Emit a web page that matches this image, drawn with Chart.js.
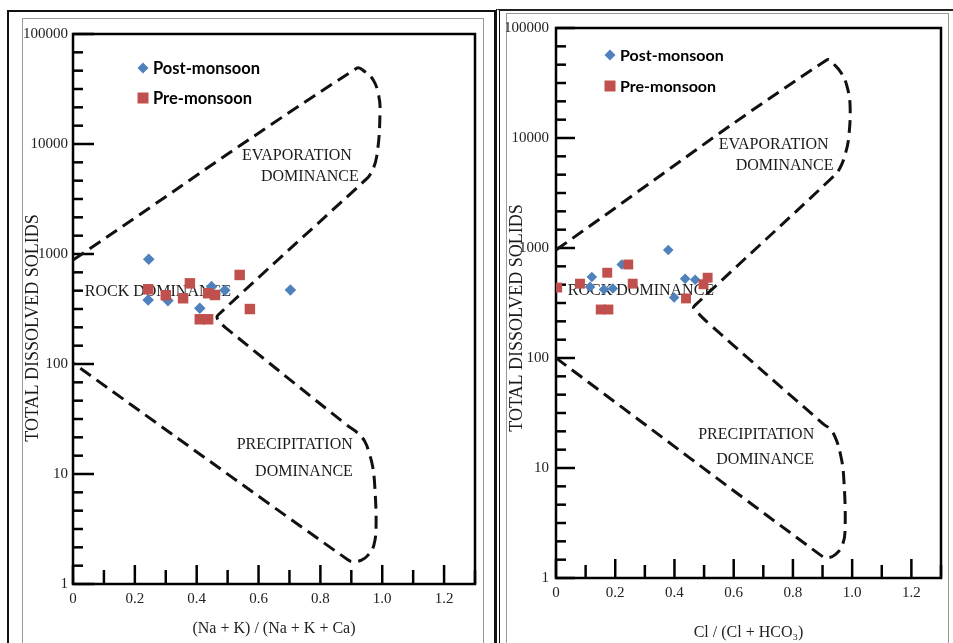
<!DOCTYPE html>
<html>
<head>
<meta charset="utf-8">
<title>Gibbs diagrams</title>
<script src="https://cdn.jsdelivr.net/npm/chart.js@4.4.1/dist/chart.umd.min.js"></script>
<style>
  html, body { margin: 0; padding: 0; background: #fff; overflow: hidden; }
  body { width: 953px; height: 643px; position: relative; }
  .frame { position: absolute; box-sizing: border-box; }
  #leftOuter { left: 7px; top: 10px; width: 489px; height: 700px; border: 2px solid #111; border-bottom: none; }
  #leftInner { left: 22px; top: 18px; width: 462px; height: 700px; border: 1px solid #999; border-bottom: none; }
  #rightOuter { left: 496px; top: 9px; width: 500px; height: 700px; border-left: 4px double #111; border-top: 2px solid #222; }
  #rightInner { left: 506px; top: 13px; width: 443px; height: 700px; border: 1px solid #999; border-bottom: none; }
  canvas { position: absolute; }
  #leftChart { left: 23px; top: 19px; }
  #rightChart { left: 506px; top: 12px; }
</style>
</head>
<body>
<div class="frame" id="leftOuter"></div>
<div class="frame" id="leftInner"></div>
<div class="frame" id="rightOuter"></div>
<div class="frame" id="rightInner"></div>
<canvas id="leftChart" width="460" height="624"></canvas>
<canvas id="rightChart" width="442" height="631"></canvas>
<script>
const seriesNames = ['Post-monsoon', 'Pre-monsoon'];
const xTickLabels = ['0', '0.2', '0.4', '0.6', '0.8', '1.0', '1.2'];
const yTickLabels = ['1', '10', '100', '1000', '10000', '100000'];

// (Na + K) / (Na + K + Ca) panel
const cationPostX = [0.245, 0.243, 0.307, 0.448, 0.491, 0.410, 0.703];
const cationPostTds = [895, 382, 377, 505, 468, 321, 471];
const cationPreX = [0.243, 0.300, 0.356, 0.378, 0.437, 0.459, 0.539, 0.572, 0.410, 0.437];
const cationPreTds = [478, 422, 396, 541, 440, 424, 645, 316, 255, 255];

// Cl / (Cl + HCO3) panel
const anionPostX = [0.379, 0.121, 0.115, 0.162, 0.192, 0.222, 0.399, 0.436, 0.470];
const anionPostTds = [960, 545, 443, 419, 428, 708, 355, 526, 515];
const anionPreX = [0.004, 0.081, 0.173, 0.244, 0.259, 0.151, 0.177, 0.439, 0.498, 0.512];
const anionPreTds = [437, 474, 596, 708, 474, 276, 276, 348, 468, 537];

// Gibbs boundary (dashed)
const cationBoundX = [0, 0.917, 0.944, 0.971, 0.987, 0.993, 0.982, 0.960, 0.939, 0.922,
  0.469, 0.466, 0.475, 0.496, 0.885, 0.922, 0.944, 0.958, 0.969, 0.976, 0.980, 0.973,
  0.955, 0.933, 0.906, 0.890, 0];
const cationBoundTds = [880, 48750, 45400, 38200, 28900, 20400, 7680, 5220, 4540, 4090,
  279, 262, 240, 211, 27.9, 23.4, 19.7, 15.4, 11.7, 7.67, 3.32, 2.26,
  1.84, 1.65, 1.60, 1.65, 102];
const anionBoundX = [0, 0.914, 0.943, 0.965, 0.982, 0.993, 0.988, 0.976, 0.959, 0.937,
  0.470, 0.464, 0.475, 0.515, 0.903, 0.926, 0.943, 0.959, 0.971, 0.976, 0.965,
  0.943, 0.915, 0.898, 0];
const anionBoundTds = [960, 51200, 45500, 38300, 30000, 19800, 9930, 7030, 5330, 4480,
  302, 282, 263, 207, 25.1, 22.6, 19.0, 13.9, 8.6, 2.65, 1.94,
  1.63, 1.52, 1.58, 100];

const BLUE = '#4F81BD';
const RED = '#C0504D';
const SERIF = '"Liberation Serif", "Times New Roman", serif';

const xLabelValues = xTickLabels.map(Number);
const yDecades = yTickLabels.map(Number);

// 5 evenly spaced minor ticks inside each decade, like the original plot
const yTickValues = [];
for (let k = 0; k < yDecades.length; k++) {
  yTickValues.push(yDecades[k]);
  if (k < yDecades.length - 1) {
    for (let j = 1; j < 6; j++) yTickValues.push(Math.pow(10, k + j / 6));
  }
}

function toPoints(xs, ys) {
  return xs.map((x, i) => ({ x: x, y: ys[i] }));
}

function xLabel(v) {
  const i = xLabelValues.findIndex(t => Math.abs(t - v) < 1e-6);
  return i >= 0 ? xTickLabels[i] : '';
}

function yLabel(v) {
  const i = yDecades.findIndex(d => Math.abs(d - v) / d < 1e-6);
  return i >= 0 ? yTickLabels[i] : '';
}

function strokeLine(ctx, x1, y1, x2, y2) {
  ctx.beginPath();
  ctx.moveTo(x1, y1);
  ctx.lineTo(x2, y2);
  ctx.stroke();
}

// box, inward tick marks, region captions, legend and rotated y title
const gibbsDecor = {
  id: 'gibbsDecor',
  beforeDatasetsDraw(chart, args, o) {
    const { ctx, chartArea: a } = chart;
    const x = chart.scales.x, y = chart.scales.y;
    ctx.save();
    ctx.strokeStyle = '#000';
    ctx.lineWidth = 2.5;
    y.ticks.forEach(t => {
      const py = y.getPixelForValue(t.value);
      strokeLine(ctx, a.left, py, a.left + (t.label ? o.yMajor : o.yMinor), py);
    });
    x.ticks.forEach(t => {
      const px = x.getPixelForValue(t.value);
      strokeLine(ctx, px, a.bottom, px, a.bottom - (t.label ? o.xMajor : o.xMinor));
    });
    ctx.strokeRect(a.left, a.top, a.right - a.left, a.bottom - a.top);

    ctx.fillStyle = '#1a1a1a';
    ctx.font = o.captionSize + 'px ' + SERIF;
    ctx.textBaseline = 'middle';
    o.captions.forEach(c => {
      ctx.textAlign = c.align || 'center';
      ctx.fillText(c.text, x.getPixelForValue(c.x), y.getPixelForValue(c.tds));
    });

    ctx.font = '18px ' + SERIF;
    ctx.textAlign = 'center';
    ctx.translate(o.yTitleX, o.yTitleY);
    ctx.rotate(-Math.PI / 2);
    ctx.fillText('TOTAL DISSOLVED SOLIDS', 0, 0);
    ctx.restore();
  },
  afterDraw(chart, args, o) {
    const { ctx, chartArea: a } = chart;
    const mx = a.left + o.legendX, tx = a.left + o.legendTextX;
    const y1 = a.top + o.legendY1, y2 = a.top + o.legendY2;
    ctx.save();
    ctx.fillStyle = BLUE;
    ctx.beginPath();
    ctx.moveTo(mx - 5.5, y1);
    ctx.lineTo(mx, y1 - 5.5);
    ctx.lineTo(mx + 5.5, y1);
    ctx.lineTo(mx, y1 + 5.5);
    ctx.closePath();
    ctx.fill();
    ctx.fillStyle = RED;
    ctx.fillRect(mx - 5.5, y2 - 5.5, 11, 11);
    ctx.fillStyle = '#000';
    ctx.font = 'bold ' + o.legendSize + 'px Lato, "Open Sans", sans-serif';
    ctx.textAlign = 'left';
    ctx.textBaseline = 'middle';
    ctx.fillText(seriesNames[0], tx, y1 + 1);
    ctx.fillText(seriesNames[1], tx, y2 + 1);
    ctx.restore();
  }
};

function buildChart(canvasId, p) {
  const ctx = document.getElementById(canvasId).getContext('2d');
  const tickFont = { family: SERIF, size: 15 };
  return new Chart(ctx, {
    type: 'scatter',
    data: {
      datasets: [
        {
          label: seriesNames[1],
          data: toPoints(p.preX, p.preTds),
          pointStyle: 'rect',
          pointRadius: p.squareR,
          backgroundColor: RED,
          pointBorderWidth: 0,
          order: 0
        },
        {
          label: seriesNames[0],
          data: toPoints(p.postX, p.postTds),
          pointStyle: 'rectRot',
          pointRadius: p.diamondR,
          backgroundColor: BLUE,
          pointBorderWidth: 0,
          order: 1
        },
        {
          label: 'boundary',
          data: toPoints(p.boundX, p.boundTds),
          showLine: true,
          pointRadius: 0,
          borderColor: '#111',
          borderWidth: 3,
          borderDash: [13, 7],
          tension: 0.4,
          fill: false,
          order: 2
        }
      ]
    },
    options: {
      responsive: false,
      animation: false,
      events: [],
      layout: { padding: p.padding },
      plugins: {
        legend: { display: false },
        tooltip: { enabled: false },
        gibbsDecor: p.decor
      },
      scales: {
        x: {
          type: 'linear',
          min: 0,
          max: 1.3,
          afterFit: (s) => { s.height = p.xAxisHeight; },
          grid: { display: false, drawTicks: false },
          border: { display: false },
          ticks: {
            stepSize: 0.1,
            autoSkip: false,
            maxRotation: 0,
            padding: 6,
            color: '#222',
            font: tickFont,
            callback: xLabel
          },
          title: {
            display: true,
            text: p.xTitle,
            color: '#222',
            font: { family: SERIF, size: 16 },
            padding: { top: 0, bottom: p.xTitlePad }
          }
        },
        y: {
          type: 'logarithmic',
          min: 1,
          max: 100000,
          afterFit: (s) => { s.width = p.yAxisWidth; },
          afterBuildTicks: (s) => { s.ticks = yTickValues.map(v => ({ value: v })); },
          grid: { display: false, drawTicks: false },
          border: { display: false },
          ticks: {
            autoSkip: false,
            padding: p.yTickPad,
            color: '#222',
            font: tickFont,
            callback: yLabel
          }
        }
      }
    },
    plugins: [gibbsDecor]
  });
}

buildChart('leftChart', {
  postX: cationPostX, postTds: cationPostTds,
  preX: cationPreX, preTds: cationPreTds,
  boundX: cationBoundX, boundTds: cationBoundTds,
  xTitle: '(Na + K) / (Na + K + Ca)',
  squareR: 7.4, diamondR: 5.8,
  padding: { top: 15, right: 8, left: 0, bottom: 0 },
  yAxisWidth: 50, xAxisHeight: 59, yTickPad: 5, xTitlePad: 5,
  decor: {
    yMajor: 21, yMinor: 10, xMajor: 19, xMinor: 14,
    yTitleX: 10, yTitleY: 309,
    legendX: 70, legendTextX: 80, legendY1: 34, legendY2: 64, legendSize: 16.5,
    captionSize: 16,
    captions: [
      { text: 'EVAPORATION', x: 0.724, tds: 7780 },
      { text: 'DOMINANCE', x: 0.766, tds: 5010 },
      { text: 'ROCK DOMINANCE', x: 0.038, tds: 452, align: 'left' },
      { text: 'PRECIPITATION', x: 0.717, tds: 18.4 },
      { text: 'DOMINANCE', x: 0.747, tds: 10.4 }
    ]
  }
});

buildChart('rightChart', {
  postX: anionPostX, postTds: anionPostTds,
  preX: anionPreX, preTds: anionPreTds,
  boundX: anionBoundX, boundTds: anionBoundTds,
  xTitle: 'Cl / (Cl + HCO\u2083)',
  squareR: 7, diamondR: 5.3,
  padding: { top: 10, right: 7, left: 0, bottom: 0 },
  yAxisWidth: 50, xAxisHeight: 65, yTickPad: 7, xTitlePad: 1,
  decor: {
    yMajor: 19, yMinor: 10, xMajor: 19, xMinor: 13,
    yTitleX: 11, yTitleY: 306,
    legendX: 54, legendTextX: 64, legendY1: 27, legendY2: 58, legendSize: 16,
    captionSize: 16,
    captions: [
      { text: 'EVAPORATION', x: 0.735, tds: 8650 },
      { text: 'DOMINANCE', x: 0.772, tds: 5600 },
      { text: 'ROCK DOMINANCE', x: 0.040, tds: 410, align: 'left' },
      { text: 'PRECIPITATION', x: 0.676, tds: 20.2 },
      { text: 'DOMINANCE', x: 0.706, tds: 11.8 }
    ]
  }
});
</script>
</body>
</html>
